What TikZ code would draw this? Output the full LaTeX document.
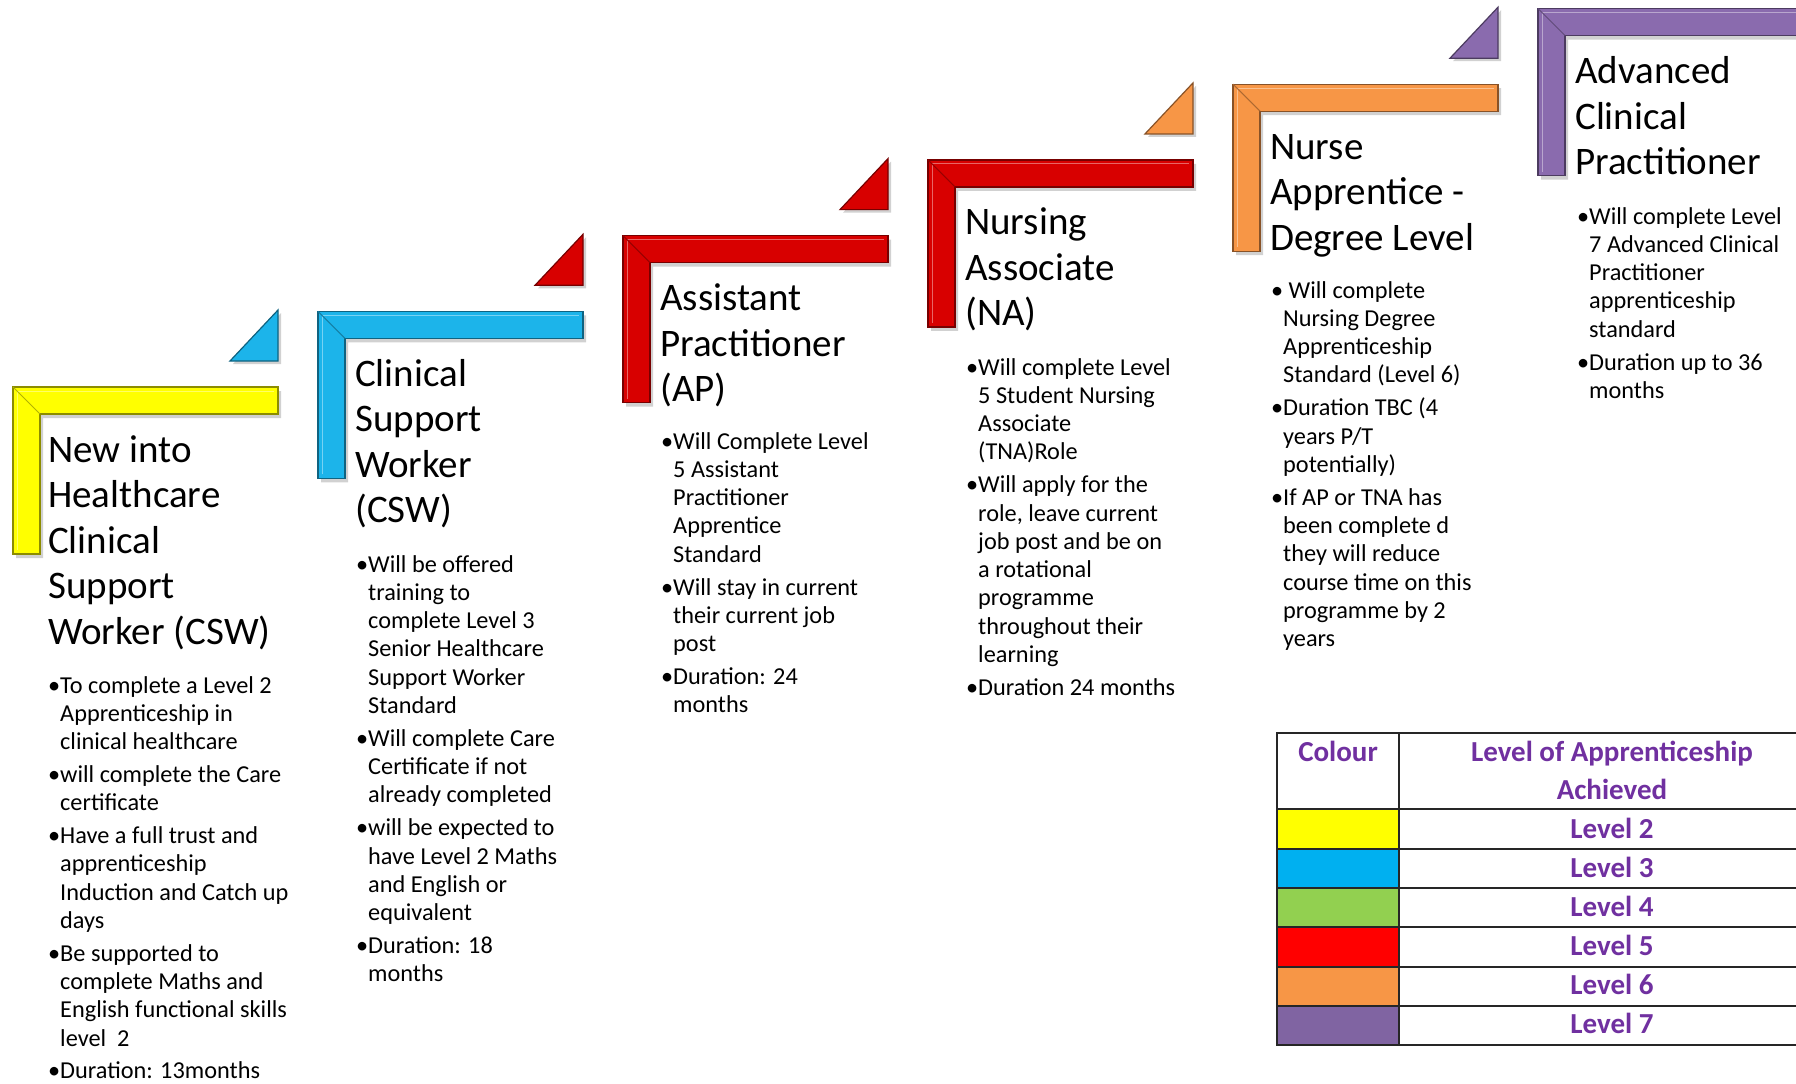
\documentclass[tikz,border=0pt]{standalone}
\usepackage{fontspec}
\setmainfont{Carlito}
\definecolor{cyel}{HTML}{FFFF00}
\definecolor{cblu}{HTML}{1CB4EA}
\definecolor{cred}{HTML}{D80000}
\definecolor{cora}{HTML}{F79646}
\definecolor{cpur}{HTML}{8A6BAE}
\definecolor{tyel}{HTML}{FFFF00}
\definecolor{tblu}{HTML}{00B0F0}
\definecolor{tgrn}{HTML}{92D050}
\definecolor{tred}{HTML}{FF0000}
\definecolor{tora}{HTML}{F79646}
\definecolor{tpur}{HTML}{8064A2}
\definecolor{ttxt}{HTML}{7030A0}
\newcommand\ttlfont{\fontsize{39}{45.5}\selectfont}
\newcommand\bulfont{\fontsize{24.3}{28.3}\selectfont}
\newcommand\tabfont{\fontsize{29}{38}\selectfont\bfseries}
\newcommand\bl{\llap{\textbullet}}
\tikzset{
  ttl/.style={anchor=north west, inner sep=0pt, align=left, font=\ttlfont, text=black},
  bul/.style={anchor=north west, inner sep=0pt, align=left, font=\bulfont, text=black},
  tabtxt/.style={inner sep=0pt, font=\tabfont, text=ttxt, anchor=base},
  tabline/.style={draw=black!85, line width=1.3pt},
}
\begin{document}
\begin{tikzpicture}[x=1pt,y=-1pt]
\clip (0,0) rectangle (1796,1084);
\fill[white] (0,0) rectangle (1796,1084);
% L-shaped steps and triangles
\foreach \k/\lc/\tc in {0/cyel/cblu,1/cblu/cred,2/cred/cred,3/cred/cora,4/cora/cpur,5/cpur/none}{
  \pgfmathsetmacro\X{13+305*\k}
  \pgfmathsetmacro\Y{387-75.7*\k}
  \fill[black, opacity=.18] (\X+3,\Y+4) -- ++(265,0) -- ++(0,27) -- ++(-238,0) -- ++(0,140) -- ++(-27,0) -- cycle;
  \filldraw[fill=\lc, draw=\lc!55!black, line width=1.2pt] (\X,\Y) -- ++(265,0) -- ++(0,27) -- ++(-238,0) -- ++(0,140) -- ++(-27,0) -- cycle;
  \draw[\lc!60!white, line width=1pt] (\X+4,\Y+163) -- (\X+4,\Y+4) -- (\X+261,\Y+4);
  \draw[\lc!70!black, line width=1pt] (\X,\Y) -- (\X+27,\Y+27);
  \ifnum\k<5
    \fill[black, opacity=.18] (\X+220,\Y-23) -- (\X+268,\Y-74) -- (\X+268,\Y-23) -- cycle;
    \filldraw[fill=\tc, draw=\tc!55!black, line width=1.2pt] (\X+217,\Y-26) -- (\X+265,\Y-77) -- (\X+265,\Y-26) -- cycle;
  \fi
}
% Titles
\node[ttl] (t1) at (48,430) {\strut New into\\Healthcare\\Clinical\\Support\\Worker (CSW)};
\node[ttl] (t2) at (355,354.3) {\strut Clinical\\Support\\Worker\\(CSW)};
\node[ttl] (t3) at (660,278.6) {\strut Assistant\\Practitioner\\(AP)};
\node[ttl] (t4) at (965,202.9) {\strut Nursing\\Associate\\(NA)};
\node[ttl] (t5) at (1270,127.2) {\strut Nurse\\Apprentice -\\Degree Level};
\node[ttl] (t6) at (1575,51.5) {\strut Advanced\\Clinical\\Practitioner};
% Bullets
\node[bul] (b1) at (60,673) {\strut\bl To complete a Level 2\\Apprenticeship in\\clinical healthcare\\[4.5pt]
\bl will complete the Care\\certificate\\[4.5pt]
\bl Have a full trust and\\apprenticeship\\Induction and Catch up\\days\\[4.5pt]
\bl Be supported to\\complete Maths and\\English functional skills\\level\ \ 2\\[4.5pt]
\bl Duration: 13months};
\node[bul] (b2) at (368,552) {\strut\bl Will be offered\\training to\\complete Level 3\\Senior Healthcare\\Support Worker\\Standard\\[4.5pt]
\bl Will complete Care\\Certificate if not\\already completed\\[4.5pt]
\bl will be expected to\\have Level 2 Maths\\and English or\\equivalent\\[4.5pt]
\bl Duration: 18\\months};
\node[bul] (b3) at (673,429) {\strut\bl Will Complete Level\\5 Assistant\\Practitioner\\Apprentice\\Standard\\[4.5pt]
\bl Will stay in current\\their current job\\post\\[4.5pt]
\bl Duration: 24\\months};
\node[bul] (b4) at (978,355) {\strut\bl Will complete Level\\5 Student Nursing\\Associate\\(TNA)Role\\[4.5pt]
\bl Will apply for the\\role, leave current\\job post and be on\\a rotational\\programme\\throughout their\\learning\\[4.5pt]
\bl Duration 24 months};
\node[bul] (b5) at (1283,278) {\strut\bl\ Will complete\\Nursing Degree\\Apprenticeship\\Standard (Level 6)\\[4.5pt]
\bl Duration TBC (4\\years P/T\\potentially)\\[4.5pt]
\bl If AP or TNA has\\been complete d\\they will reduce\\course time on this\\programme by 2\\years};
\node[bul] (b6) at (1589,204) {\strut\bl Will complete Level\\7 Advanced Clinical\\Practitioner\\apprenticeship\\standard\\[4.5pt]
\bl Duration up to 36\\months};
% Table
\fill[tyel] (1277,809) rectangle (1399,849);
\fill[tblu] (1277,849) rectangle (1399,888);
\fill[tgrn] (1277,888) rectangle (1399,927);
\fill[tred] (1277,927) rectangle (1399,967);
\fill[tora] (1277,967) rectangle (1399,1006);
\fill[tpur] (1277,1006) rectangle (1399,1045);
\draw[tabline] (1277,733) rectangle (1825,1045);
\draw[tabline] (1399,733) -- (1399,1045);
\foreach \yy in {809,849,888,927,967,1006}{\draw[tabline] (1277,\yy) -- (1825,\yy);}
\node[tabtxt] (hc) at (1338,761) {Colour};
\node[tabtxt] (hl1) at (1612,761) {Level of Apprenticeship};
\node[tabtxt] (hl2) at (1612,799) {Achieved};
\node[tabtxt] (l2) at (1612,838) {Level 2};
\node[tabtxt] (l3) at (1612,877) {Level 3};
\node[tabtxt] (l4) at (1612,916) {Level 4};
\node[tabtxt] (l5) at (1612,955) {Level 5};
\node[tabtxt] (l6) at (1612,994) {Level 6};
\node[tabtxt] (l7) at (1612,1033) {Level 7};
\end{tikzpicture}
\end{document}
